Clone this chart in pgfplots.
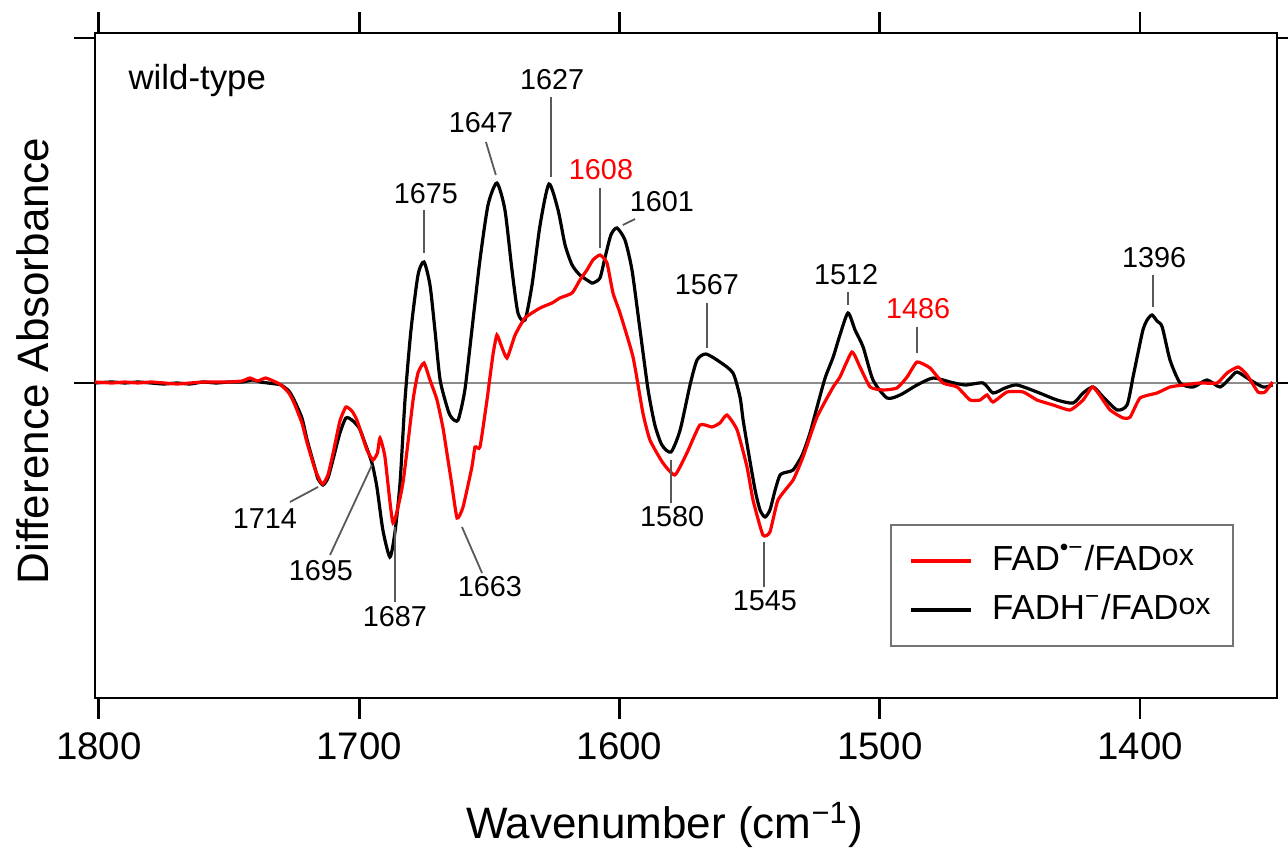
\documentclass[border=0pt]{standalone}
\usepackage{fontspec}
\setmainfont{Liberation Sans}
\usepackage{pgfplots}
\pgfplotsset{compat=1.18}

\newcommand{\annfont}{\fontsize{7.2}{8}\selectfont}
\newcommand{\ox}{\raisebox{1.3pt}{\fontsize{7.6}{8}\selectfont ox}}

\begin{document}
\begin{tikzpicture}
\begin{axis}[
    scale only axis,
    width=295.5pt, height=166.25pt,
    x dir=reverse,
    xmin=1347.4, xmax=1801.5,
    ymin=-315, ymax=350,
    xtick={1400,1500,1600,1700,1800},
    ytick={0,345}, yticklabels={},
    xtick pos=both, xticklabel pos=bottom, ytick pos=both,
    tick align=outside,
    major tick length=5.25pt,
    every tick/.style={black, line width=0.7pt},
    axis line style={line width=0.7pt},
    /pgf/number format/1000 sep={},
    /pgf/number format/assume math mode=true,
    xticklabel style={font=\fontsize{9.6}{11}\selectfont},
    xlabel={Wavenumber (cm\textsuperscript{−1})},
    ylabel={Difference Absorbance},
    label style={font=\fontsize{11}{13}\selectfont},
    xlabel style={at={(axis description cs:0.482,-0.191)}, anchor=center},
    ylabel style={at={(axis description cs:-0.0525,0.507)}, anchor=center},
    reverse legend,
    legend cell align=left,
    legend image code/.code={\draw[#1] (0pt,0pt) -- (15pt,0pt);},
    legend style={at={(0.6726,0.0767)}, anchor=south west,
        draw=black!55, line width=0.5pt,
        font=\fontsize{8.7}{10}\selectfont,
        inner xsep=4.5pt, inner ysep=4pt,
        nodes={inner sep=1pt, text height=6.5pt, text depth=1.5pt},
        row sep=2.25pt, column sep=4pt},
]
% zero line
\addplot[black!45, line width=0.5pt, forget plot] coordinates {(1801.5,0) (1347.4,0)};

% FADH- / FADox
\addplot[black, line width=0.8pt, smooth, tension=0.4] coordinates {
(1801.5,0) (1795,1) (1790,0) (1785,1) (1780,0) (1775,-1) (1770,0) (1765,-1) (1760,1) (1755,0)
(1750,1) (1745,1) (1741,3) (1738,1) (1735,0) (1732,-1) (1730,-2) (1727,-8) (1725,-17) (1722,-35)
(1720,-57) (1717,-85) (1715.8,-96) (1713.9,-102) (1712,-95) (1710.1,-77) (1707.4,-50) (1705.1,-35)
(1702.8,-37) (1700,-45) (1698.2,-57) (1695.1,-80) (1693.2,-104) (1690.9,-147) (1688.2,-174)
(1686.3,-150) (1684.3,-100) (1682.4,-17) (1680.1,53) (1677.4,108) (1675.1,121) (1672.8,98)
(1670.9,53) (1668.9,3) (1665.9,-27) (1664.4,-35) (1662,-37) (1659.4,-7) (1656.7,53) (1653.6,123)
(1650.5,178) (1647.1,200) (1644,173) (1641.3,113) (1639,70) (1636.3,63) (1633.6,98) (1630.5,158)
(1627.1,199) (1623.6,173) (1620.9,138) (1618.2,118) (1615.2,108) (1611.3,101) (1610.2,100)
(1607.5,105) (1605.6,125) (1603.3,148) (1601,155) (1597.9,143) (1595.2,113) (1592.1,53) (1589,-7)
(1586.4,-42) (1583.7,-62) (1580.2,-69) (1576.7,-47) (1572.9,-2) (1570.2,23) (1566.8,29) (1561.4,21)
(1556.4,10) (1553.7,-14) (1552.5,-37) (1550.6,-67) (1547.9,-107) (1546,-127) (1544.1,-134)
(1542.2,-127) (1540.2,-107) (1538.3,-92) (1535.6,-89) (1533.3,-87) (1529.8,-72) (1526.8,-50)
(1524.1,-24) (1521,5) (1517.9,26) (1515.3,48) (1512.2,70) (1509.5,53) (1506.4,36) (1502.6,3)
(1497.2,-15) (1492.2,-12) (1485.7,-2) (1479.5,5) (1473,1) (1467.2,-2) (1460.3,0) (1456.5,-10)
(1451.9,-5) (1447.3,-2) (1439.6,-9) (1431.9,-17) (1425.7,-20) (1421.9,-10) (1418,-4) (1414.2,-14)
(1408.8,-27) (1405,-22) (1402.7,6) (1400.8,30) (1398.9,53) (1397.3,63) (1395.4,68) (1393.5,62)
(1391.5,56) (1388.5,23) (1384.6,0) (1379.6,-4) (1374.3,3) (1369.3,-4) (1365.4,5) (1362.7,11)
(1357.7,3) (1352.7,-4) (1349.1,-2)
};
\addlegendentry{FADH\textsuperscript{−}/FAD\ox}

% FAD.- / FADox
\addplot[red, line width=0.8pt, smooth, tension=0.3] coordinates {
(1801.5,1) (1795,0) (1790,1) (1785,0) (1780,1) (1775,0) (1770,-1) (1765,0) (1760,1) (1755,1)
(1750,1) (1745,2) (1742,5) (1739,2) (1736,5) (1733,2) (1730,-2) (1727,-10) (1725,-20) (1722,-40)
(1720,-60) (1717,-86) (1715,-98) (1713.9,-101) (1712,-92) (1710,-70) (1707.4,-38) (1705.1,-24)
(1702.8,-28) (1700.9,-37) (1697,-67) (1694.7,-77) (1693,-70) (1692,-55) (1690.1,-74) (1687,-140)
(1683.2,-100) (1679.3,-17) (1677.4,10) (1675.1,20) (1672.8,3) (1670.1,-17) (1667.8,-45)
(1666.3,-70) (1664.5,-100) (1662.4,-135) (1660.1,-124) (1656.7,-84) (1655.5,-64) (1653.6,-64)
(1650.9,-17) (1649.8,5) (1648.5,30) (1647.1,48) (1645.5,38) (1643.2,25) (1640.1,48) (1636.3,65)
(1630.5,75) (1625.9,80) (1622.9,85) (1618.2,90) (1615.2,103) (1612.5,113) (1610.2,123)
(1607.5,128) (1604.8,120) (1602.5,90) (1599.8,70) (1594.8,26) (1591,-30) (1588.3,-57)
(1583.3,-80) (1578.7,-92) (1574.1,-70) (1569.1,-42) (1564.5,-44) (1561.4,-40) (1558.7,-32)
(1554.8,-47) (1551,-84) (1548.7,-117) (1544.9,-152) (1542.2,-149) (1539.1,-117) (1533.3,-97)
(1529.5,-74) (1524.1,-34) (1517.9,-4) (1515.3,6) (1510.7,31) (1507.6,16) (1503.7,-4) (1498.7,-7)
(1493.4,-5) (1489.5,6) (1485.7,21) (1480.7,15) (1475.7,0) (1470.3,-4) (1465.3,-17) (1461.5,-17)
(1458.8,-12) (1456.5,-19) (1451.1,-9) (1444.9,-9) (1439.6,-17) (1433.4,-22) (1426.9,-27)
(1421.9,-17) (1418.4,-4) (1416.1,-10) (1411.5,-27) (1406.5,-35) (1403.8,-34) (1400,-15)
(1393.5,-10) (1388.5,-4) (1383.5,-2) (1376.9,0) (1370.4,0) (1366.6,10) (1362.3,16) (1358.9,8)
(1354.7,-9) (1352,-9) (1349.1,1)
};
\addlegendentry{FAD\textsuperscript{•−}/FAD\ox}

% leader lines
\begin{scope}[black!65, line width=0.45pt]
\draw (axis cs:1715.8,-104) -- (axis cs:1726.6,-119);
\draw (axis cs:1695.1,-82) -- (axis cs:1711.2,-172);
\draw (axis cs:1686.3,-144) -- (axis cs:1686.3,-219);
\draw (axis cs:1660.5,-144) -- (axis cs:1652.8,-190);
\draw (axis cs:1675.1,173) -- (axis cs:1675.1,130);
\draw (axis cs:1651.3,241) -- (axis cs:1647.5,208);
\draw (axis cs:1626.3,286) -- (axis cs:1626.3,206);
\draw (axis cs:1607.5,195) -- (axis cs:1607.5,135);
\draw (axis cs:1598.7,158) -- (axis cs:1594.0,164);
\draw (axis cs:1566.4,80) -- (axis cs:1566.4,35);
\draw (axis cs:1512.2,91) -- (axis cs:1512.2,78);
\draw (axis cs:1485.7,56) -- (axis cs:1485.7,30);
\draw (axis cs:1395,108) -- (axis cs:1395,76);
\draw (axis cs:1580.2,-77) -- (axis cs:1580.2,-120);
\draw (axis cs:1544.5,-159) -- (axis cs:1544.5,-204);
\end{scope}

% peak labels
\begin{scope}[every node/.style={font=\annfont, inner sep=0pt, anchor=center}]
\node at (axis cs:1736.2,-136) {1714};
\node at (axis cs:1714.7,-188) {1695};
\node at (axis cs:1686.3,-234) {1687};
\node at (axis cs:1649.8,-204) {1663};
\node at (axis cs:1674.4,189) {1675};
\node at (axis cs:1653.2,260) {1647};
\node at (axis cs:1625.9,303) {1627};
\node[text=red] at (axis cs:1607.1,213) {1608};
\node at (axis cs:1583.7,181) {1601};
\node at (axis cs:1566.4,98) {1567};
\node at (axis cs:1512.9,108) {1512};
\node[text=red] at (axis cs:1485.3,74) {1486};
\node at (axis cs:1394.6,125) {1396};
\node at (axis cs:1579.8,-134) {1580};
\node at (axis cs:1544.1,-218) {1545};
\end{scope}

\node[anchor=base west, inner sep=0pt, font=\fontsize{8.7}{10}\selectfont]
    at (axis cs:1788.9,293) {wild-type};
\end{axis}
\pgfresetboundingbox
\path (current axis.south west) ++(-23.75pt,-39.5pt) rectangle ([shift={(2.75pt,8.25pt)}]current axis.north east);
\end{tikzpicture}
\end{document}
